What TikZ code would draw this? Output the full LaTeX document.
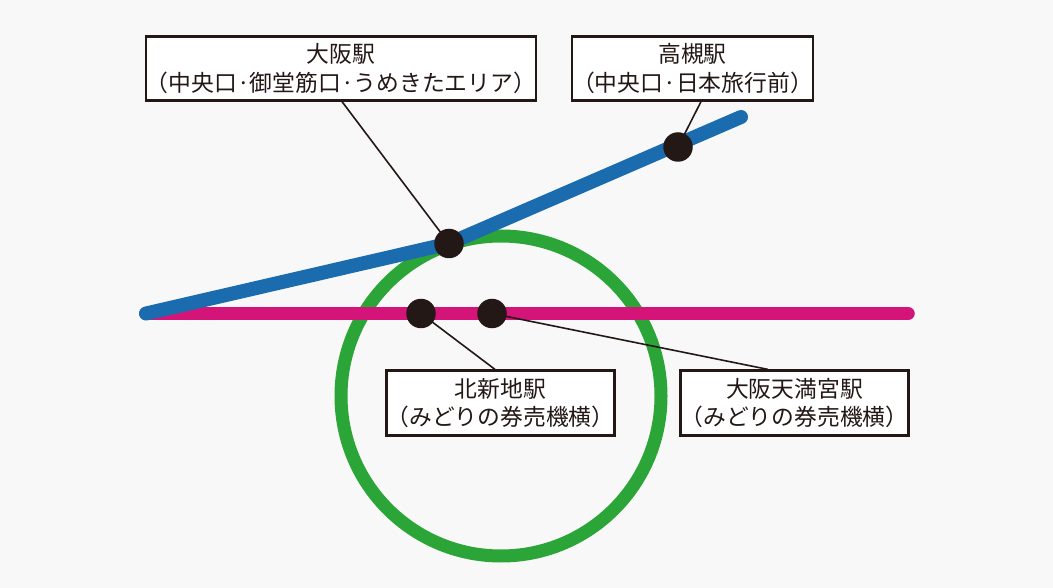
\documentclass[tikz,border=0pt]{standalone}
\usetikzlibrary{calc}
\usepackage{fontspec}
\setmainfont{Noto Sans CJK JP}
\definecolor{bgc}{HTML}{F8F8F8}
\definecolor{ink}{HTML}{231815}
\definecolor{bluel}{HTML}{1A6CAE}
\definecolor{pinkl}{HTML}{D5147A}
\definecolor{greenl}{HTML}{2CA538}
\tikzset{
  x=1pt,y=-1pt,
  label box/.style={draw=ink,fill=white,line width=2.2pt,text=ink,align=center,inner sep=0pt,
    font=\fontsize{22.8}{28.5}\selectfont},
  station/.style={circle,fill=ink,minimum size=29.5pt,inner sep=0pt},
  leader/.style={draw=ink,line width=1.6pt},
  railway/.style={line cap=round,line join=round}
}
\begin{document}
\begin{tikzpicture}
\useasboundingbox[fill=bgc] (0,0) rectangle (1053,588);
\coordinate (left) at (146,313.5);
\coordinate (right) at (908,313.5);
\coordinate (top) at (741,117);
\coordinate (c) at (501,396);
\draw[greenl,line width=13pt] (c) circle[radius=160];
\coordinate (osaka) at (449,243.5);
\coordinate (taka) at (678,147);
\coordinate (kita) at (421,313.5);
\coordinate (tenma) at (492,313.5);
\draw[railway,pinkl,line width=13.5pt] (left) -- (right);
\draw[railway,bluel,line width=14pt] (left) -- (osaka) -- (top);
% boxes
\node[label box,minimum width=387pt,minimum height=64pt] (bo) at (341,68.5) {大阪駅\\（中央口·御堂筋口·うめきたエリア）};
\node[label box,minimum width=238pt,minimum height=64pt] (bt) at (692.5,68.5) {高槻駅\\（中央口·日本旅行前）};
\node[label box,minimum width=226pt,minimum height=65pt] (bk) at (500.5,403) {北新地駅\\（みどりの券売機横）};
\node[label box,minimum width=226pt,minimum height=65pt] (bm) at (794.5,403) {大阪天満宮駅\\（みどりの券売機横）};
% leaders
\draw[leader] ($(bo.south)+(1,0)$) -- (osaka);
\draw[leader] ($(bt.south)+(8.5,0)$) -- (taka);
\draw[leader] ($(bk.north)+(-5.5,0)$) -- (kita);
\draw[leader] ($(bm.north)+(-26.5,0)$) -- (tenma);
% station dots
\node[station] (so) at (osaka) {};
\node[station] (st) at (taka) {};
\node[station] (sk) at (kita) {};
\node[station] (sm) at (tenma) {};
\end{tikzpicture}
\end{document}
